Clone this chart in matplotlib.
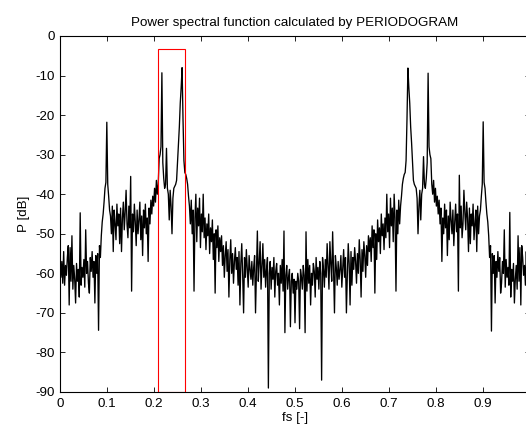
import numpy as np
import matplotlib.pyplot as plt
from matplotlib.patches import Rectangle

plt.rcParams['font.family'] = ['Liberation Sans', 'DejaVu Sans']

# periodogram in dB, 512 bins over fs = 0 .. 1
p_db_first = [
    -58.5, -61, -57, -62.5, -54.5, -63, -58, -60.5, -56, -53,
    -68, -53.5, -62, -50.5, -64, -58, -61.5, -67.5, -57.5, -62,
    -59, -66, -44.7, -63, -58.5, -61, -56.5, -63.5, -49, -60,
    -57, -62.5, -65, -56, -59.5, -54.5, -61, -57, -67.5, -55.5,
    -60, -55, -74.4, -53, -56, -50.5, -47, -45, -42, -38.5,
    -37, -21.8, -37.5, -40.5, -44, -45.5, -50, -43, -54.5, -44,
    -47.5, -51.5, -42.5, -48, -45, -52.5, -43.5, -54.5, -46, -42,
    -49, -44.5, -39, -47.5, -51, -43, -48.5, -35.5, -64.5, -45,
    -49.5, -42.5, -47, -53, -44, -50, -46.5, -42, -51.5, -45.5,
    -55.5, -44, -48.5, -42.5, -50, -46, -57, -43.5, -47.5, -41.5,
    -45, -40.5, -43, -38.5, -42, -36.5, -40, -37.5, -31, -30,
    -28, -9.3, -32, -36, -38.5, -37.5, -28.4, -38.5, -40, -46.5,
    -39, -43, -50, -41, -38.5, -38, -37.5, -36.5, -32, -27,
    -23, -17, -13, -8, -21, -31.5, -34.5, -35, -36, -37.5,
    -40.5, -43, -47.5, -41.5, -50, -44, -64.5, -46, -40, -52,
    -43.5, -48, -41, -53.5, -45, -49.5, -40, -51, -46, -54,
    -47.5, -50.5, -45, -55, -48.5, -52, -46.5, -56.5, -50, -65,
    -49, -53.5, -48, -57, -51, -54.5, -50.5, -58, -53, -61,
    -55.5, -52, -59.5, -54, -66, -56.5, -51.5, -60, -55, -62.5,
    -57, -53.5, -59, -56, -63, -54.5, -68, -57.5, -52.5, -60.5,
    -70, -56, -61, -54, -58.5, -63.5, -55.5, -59, -61.5, -57,
    -63, -58.5, -55.5, -70, -59, -49.3, -62, -57.5, -52, -64,
    -58, -52.5, -61, -56.5, -63.5, -59, -56, -89, -60, -57,
    -64, -58.5, -61.5, -56, -66, -59.5, -57.5, -63, -60, -68,
    -58, -62.5, -56.5, -64.5, -49.3, -75, -60.5, -58, -64, -61,
    -59, -73.5, -62, -60, -65, -61.5,
    -72.5,
]
p_db_second = [
    -62, -64, -60, -62, -74, -59,
    -61, -64, -58, -60.5, -75, -49.5, -64.5, -56.5, -62.5, -58,
    -68, -60, -63, -57.5, -59.5, -66, -56, -61.5, -58.5, -64,
    -57, -60, -87, -56, -59, -63.5, -56.5, -61, -52.5, -58,
    -64, -52, -57.5, -62, -49.5, -59, -70, -55.5, -58.5, -63,
    -57, -61.5, -59, -55.5, -63.5, -58.5, -54, -61, -56, -70,
    -60.5, -52.5, -57.5, -68, -54.5, -63, -56, -59, -53.5, -57,
    -62.5, -55, -60, -51.5, -56.5, -66, -54, -59.5, -52, -55.5,
    -61, -53, -58, -50.5, -54.5, -51, -57, -48, -53.5, -49,
    -65, -50, -56.5, -46.5, -52, -48.5, -55, -45, -50.5, -47.5,
    -54, -46, -51, -40, -49.5, -45, -53.5, -41, -48, -43.5,
    -52, -40, -46, -64.5, -44, -50, -41.5, -47.5, -43, -40.5,
    -37.5, -36, -35, -34.5, -31.5, -21, -8.1, -13, -17, -23,
    -27, -32, -36.5, -37.5, -38, -38.5, -41, -50, -43, -39,
    -46.5, -40, -38.5, -30.5, -37.5, -38.5, -36, -32, -9.4, -28,
    -30, -31, -37.5, -40, -36.5, -42, -38.5, -43, -40.5, -45,
    -41.5, -47.5, -43.5, -57, -46, -50, -42.5, -48.5, -44, -55.5,
    -45.5, -51.5, -42, -46.5, -50, -44, -53, -47, -42.5, -49.5,
    -45, -64.5, -35.2, -48.5, -43, -51, -47.5, -39, -44.5, -49,
    -42, -46, -54.5, -43.5, -52.5, -45, -48, -42.5, -51.5, -47.5,
    -44, -54.5, -43, -50, -45.5, -44, -40.5, -37.5, -21.7, -37,
    -38.5, -42, -45, -47, -50.5, -56, -53, -74.6, -55, -60,
    -55.5, -67.5, -57, -61, -54.5, -59.5, -56, -65, -62.5, -57,
    -60, -49, -63.5, -56.5, -61, -58.5, -63, -44.6, -66, -59,
    -62, -57.5, -67.5, -61.5, -58, -64, -50.5, -62, -53.5, -68,
    -53, -56, -60.5, -58, -63, -54.5, -62.5, -57, -61,
]
p_db = np.array(p_db_first + p_db_second)
fs = np.arange(len(p_db)) / len(p_db)

x_ticks = [0, 0.1, 0.2, 0.3, 0.4, 0.5, 0.6, 0.7, 0.8, 0.9]
x_tick_labels = ["0", "0.1", "0.2", "0.3", "0.4", "0.5", "0.6", "0.7", "0.8", "0.9"]
y_ticks = [0, -10, -20, -30, -40, -50, -60, -70, -80, -90]
y_tick_labels = ["0", "-10", "-20", "-30", "-40", "-50", "-60", "-70", "-80", "-90"]

# marked band
box_fs = [0.208, 0.2667]
box_db = [-90, -3.4]

fig = plt.figure(figsize=(5.26, 4.28), dpi=100)
# axes runs past the right edge like in the original screenshot
ax = fig.add_axes([60/526, (428-392)/428, 470/526, 356/428])

ax.plot(fs, p_db, color='black', linewidth=0.95)
ax.add_patch(Rectangle((box_fs[0], box_db[0]), box_fs[1]-box_fs[0], box_db[1]-box_db[0],
                       fill=False, edgecolor='red', linewidth=0.8, zorder=3))

ax.set_xlim(0, 1)
ax.set_ylim(-90, 0)
ax.set_xticks(x_ticks)
ax.set_xticklabels(x_tick_labels)
ax.set_yticks(y_ticks)
ax.set_yticklabels(y_tick_labels)
ax.tick_params(direction='in', top=True, right=True, length=3.4, width=0.6,
               labelsize=9.6, pad=4)
for s in ax.spines.values():
    s.set_linewidth(0.8)

ax.set_title("Power spectral function calculated by PERIODOGRAM", fontsize=9.6, pad=7)
ax.set_xlabel("fs [-]", fontsize=9.6, labelpad=2)
ax.set_ylabel("P [dB]", fontsize=9.6, labelpad=4)

fig.savefig("out.png", dpi=100)
